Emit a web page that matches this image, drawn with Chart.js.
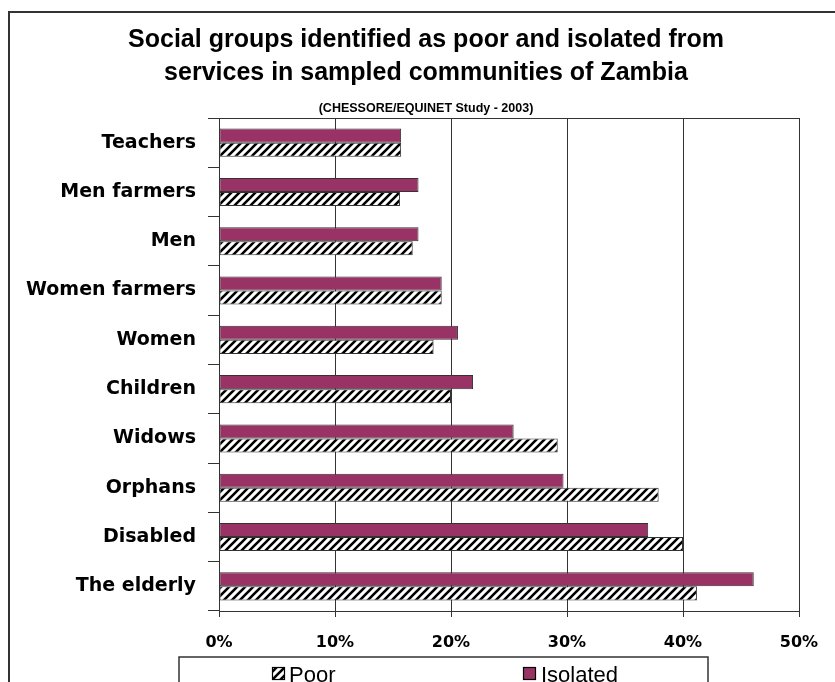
<!DOCTYPE html>
<html><head><meta charset="utf-8">
<script src="https://cdn.jsdelivr.net/npm/chart.js@4.4.0/dist/chart.umd.min.js"></script>
<style>html,body{margin:0;padding:0;background:#fff;}</style>
</head><body>
<canvas id="c" width="835" height="682"></canvas>
<script>
const categories = ['Teachers','Men farmers','Men','Women farmers','Women','Children','Widows','Orphans','Disabled','The elderly'];
const isolated = [15.7, 17.2, 17.2, 19.2, 20.6, 21.9, 25.4, 29.7, 37.0, 46.1];
const poor = [15.7, 15.6, 16.7, 19.2, 18.5, 20.0, 29.2, 37.9, 40.0, 41.2];
const tickLabels = ['0%','10%','20%','30%','40%','50%'];
const titleLines = ['Social groups identified as poor and isolated from','services in sampled communities of Zambia'];
const subtitle = '(CHESSORE/EQUINET Study - 2003)';
const seriesNames = ['Poor','Isolated'];

function makeHatch(){
  const s = 8;
  const c = document.createElement('canvas'); c.width = s; c.height = s;
  const g = c.getContext('2d');
  g.fillStyle = '#fff'; g.fillRect(0,0,s,s);
  g.strokeStyle = '#000'; g.lineWidth = 2.6; g.lineCap='square';
  g.beginPath();
  g.moveTo(-1, s+1); g.lineTo(s+1, -1);
  g.moveTo(-s/2-1, s/2+1); g.lineTo(s/2+1, -s/2-1);
  g.moveTo(s/2-1, s*1.5+1); g.lineTo(s*1.5+1, s/2-1);
  g.stroke();
  return g.createPattern(c, 'repeat');
}
const hatch = makeHatch();
const ISO = '#993366';

const decor = {
  id: 'decor',
  beforeDraw(chart){
    const ctx = chart.ctx;
    ctx.save();
    ctx.fillStyle = '#fff'; ctx.fillRect(0,0,chart.width,chart.height);
    ctx.strokeStyle = '#333'; ctx.lineWidth = 2;
    ctx.strokeRect(9, 12, 900, 900);
    ctx.restore();
  },
  afterDraw(chart){
    const ctx = chart.ctx, a = chart.chartArea;
    ctx.save();
    // plot border
    ctx.strokeStyle = '#333'; ctx.lineWidth = 1;
    ctx.strokeRect(a.left + 0.5, a.top + 0.5, a.right - a.left, a.bottom - a.top);
    // titles
    ctx.fillStyle = '#000'; ctx.textAlign = 'center'; ctx.textBaseline = 'alphabetic';
    ctx.font = 'bold 25px "Liberation Sans", Arial, sans-serif';
    ctx.fillText(titleLines[0], 426, 47);
    ctx.fillText(titleLines[1], 426, 80);
    ctx.font = 'bold 12.5px "Liberation Sans", Arial, sans-serif';
    ctx.fillText(subtitle, 426, 112);
    // legend
    ctx.strokeStyle = '#333'; ctx.lineWidth = 1.5;
    ctx.strokeRect(179, 657, 529, 60);
    ctx.font = '22px "Liberation Sans", Arial, sans-serif';
    ctx.textAlign = 'left';
    ctx.fillStyle = hatch; ctx.fillRect(272, 667, 13, 13);
    ctx.strokeStyle = '#000'; ctx.lineWidth = 1.2; ctx.strokeRect(272.5, 667.5, 12, 12);
    ctx.fillStyle = '#000'; ctx.fillText(seriesNames[0], 289, 682);
    ctx.fillStyle = ISO; ctx.fillRect(523, 667, 13, 13);
    ctx.strokeRect(523.5, 667.5, 12, 12);
    ctx.fillStyle = '#000'; ctx.fillText(seriesNames[1], 541, 682);
    ctx.restore();
  }
};

new Chart(document.getElementById('c'), {
  type: 'bar',
  data: {
    labels: categories,
    datasets: [
      { label: seriesNames[1], data: isolated, backgroundColor: ISO, borderColor: '#333', borderWidth: 1, borderSkipped: false },
      { label: seriesNames[0], data: poor, backgroundColor: hatch, borderColor: '#333', borderWidth: 1, borderSkipped: false }
    ]
  },
  options: {
    indexAxis: 'y',
    responsive: false,
    animation: false,
    categoryPercentage: 0.57,
    barPercentage: 1.0,
    layout: { padding: { top: 118, right: 36, bottom: 0, left: 0 } },
    plugins: { legend: { display: false }, title: { display: false }, tooltip: { enabled: false } },
    scales: {
      x: {
        min: 0, max: 50,
        ticks: { stepSize: 10, color: '#000', padding: 16,
          font: { family: '"DejaVu Sans", sans-serif', size: 16, weight: 'bold' },
          callback: (v, i) => tickLabels[i] },
        grid: { color: '#333', lineWidth: 1, tickLength: 6 },
        border: { color: '#333', width: 1 },
        afterFit(s){ s.height = 71; }
      },
      y: {
        ticks: { color: '#000', padding: 12,
          font: { family: '"DejaVu Sans", sans-serif', size: 19, weight: 'bold' } },
        grid: { drawOnChartArea: false, color: '#333', tickLength: 11 },
        border: { color: '#333', width: 1 },
        afterFit(s){ s.width = 219; }
      }
    }
  },
  plugins: [decor]
});
</script>
</body></html>
